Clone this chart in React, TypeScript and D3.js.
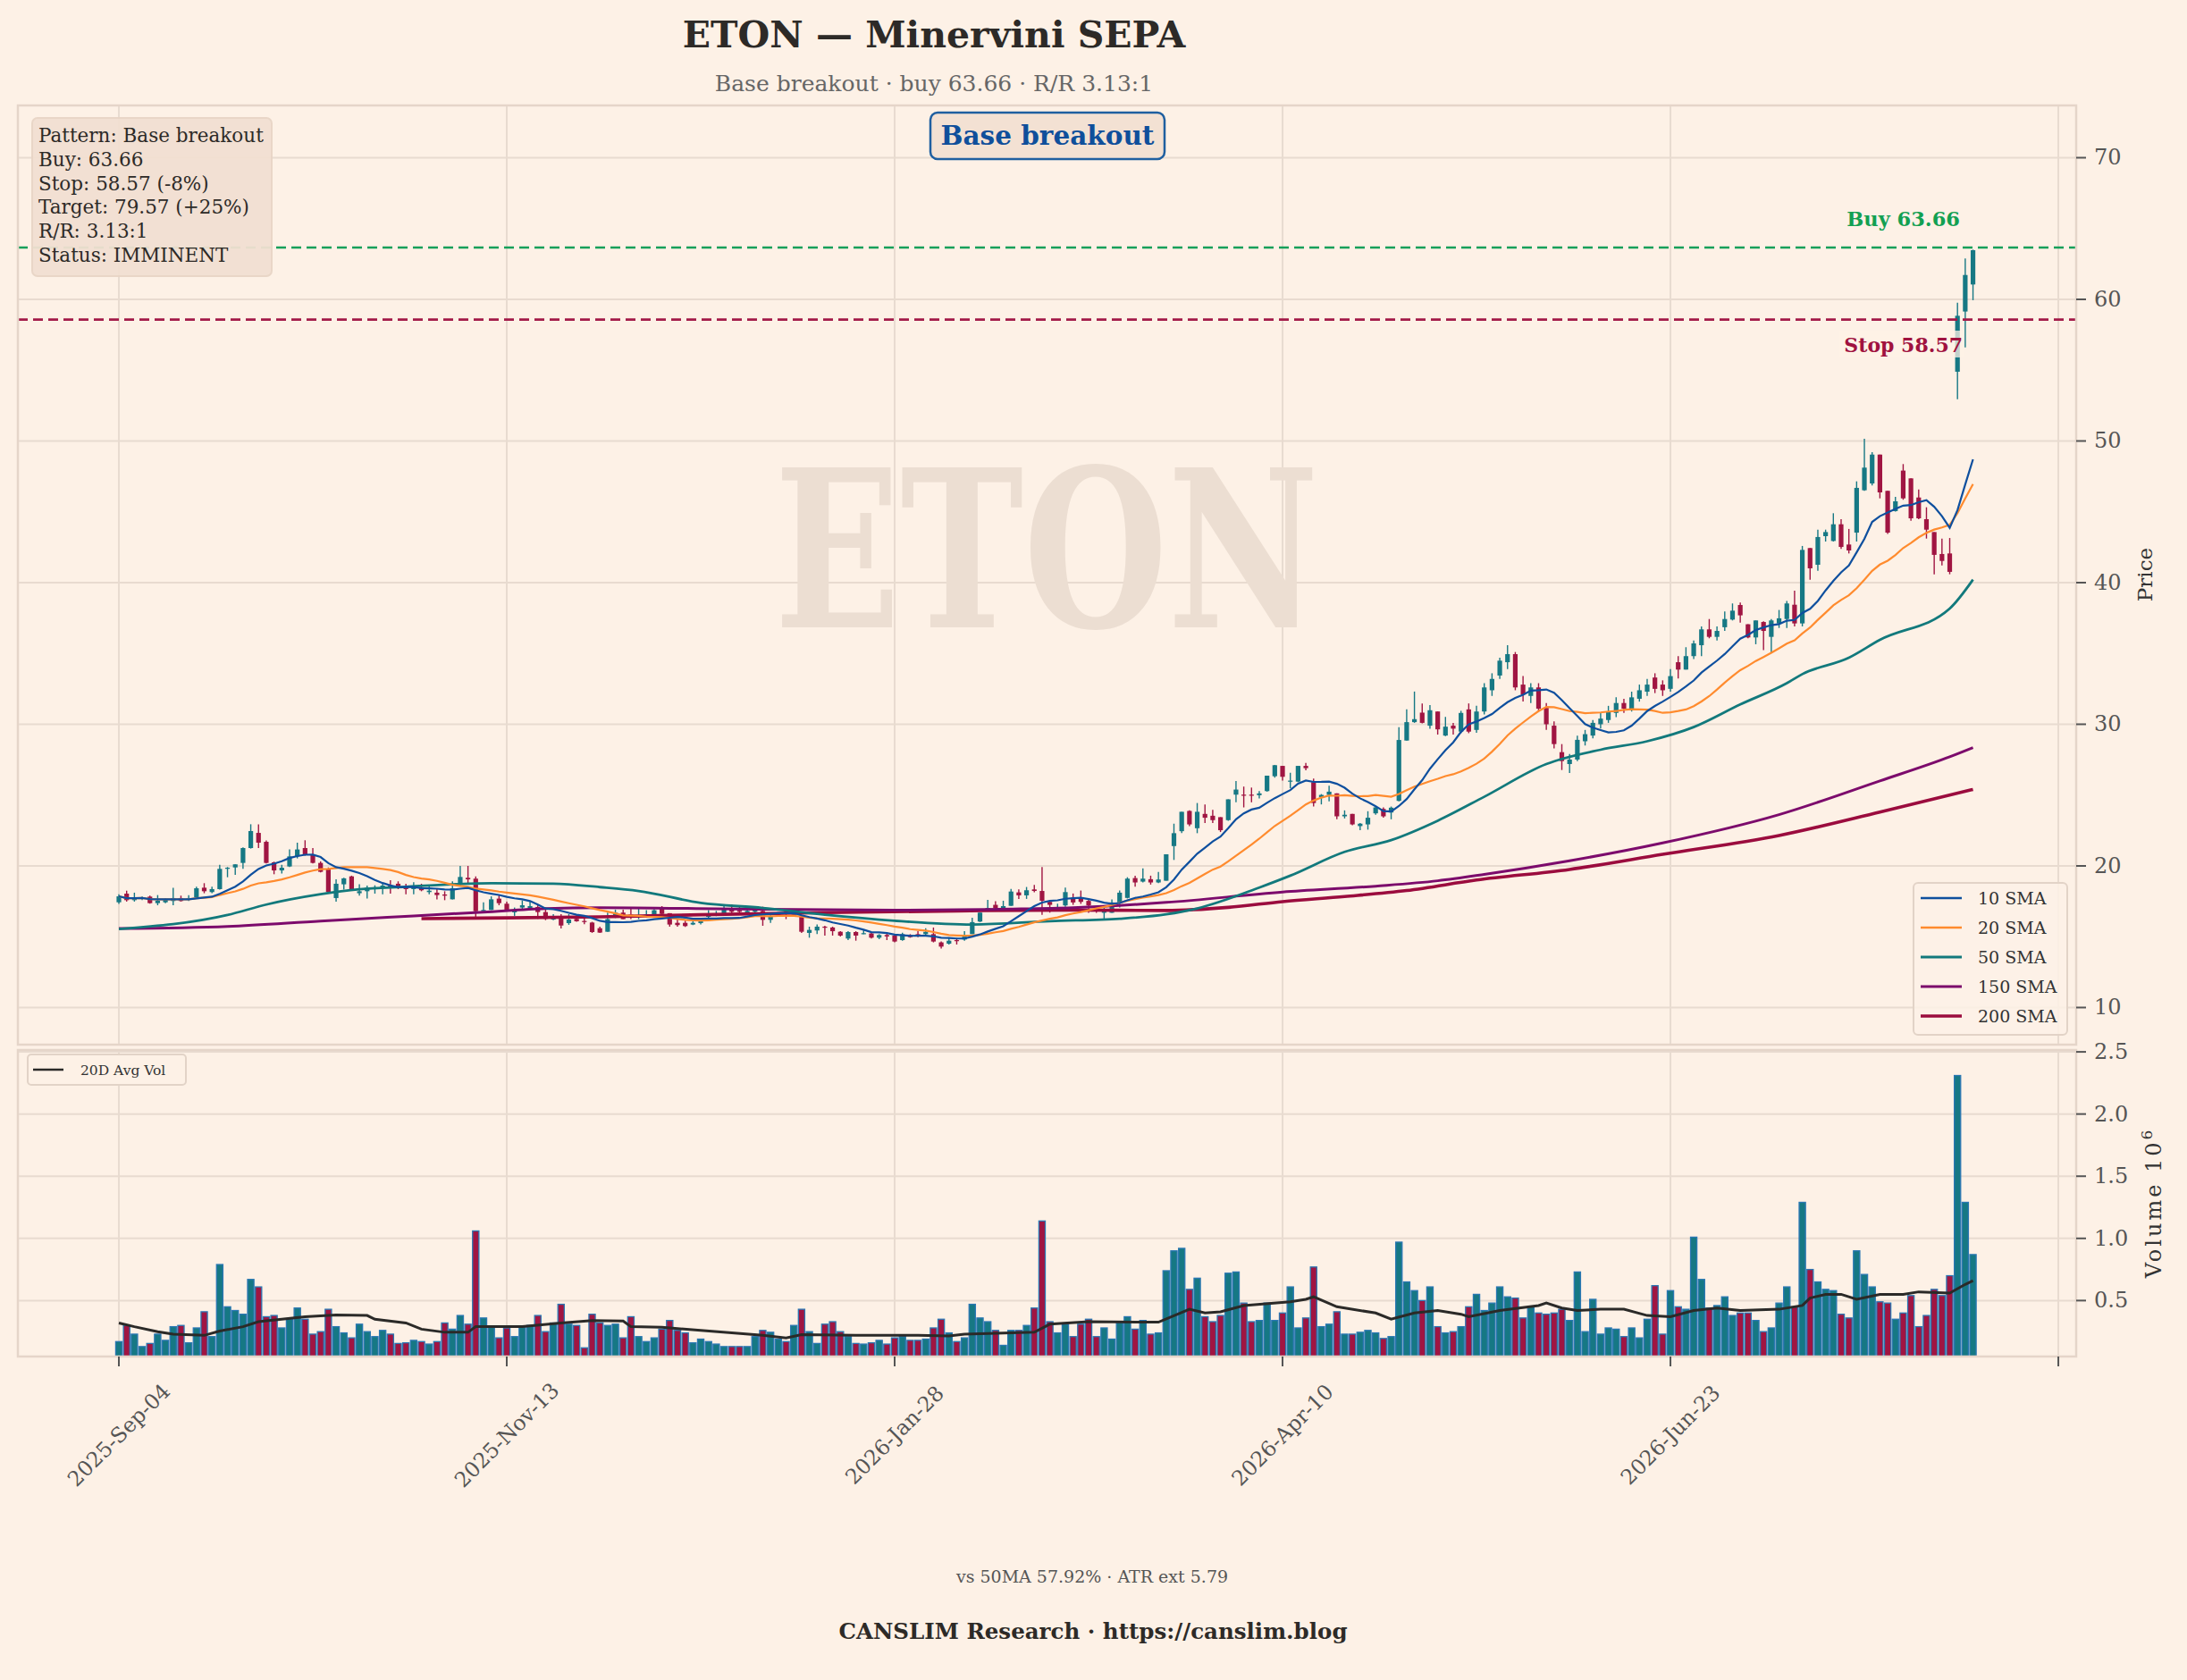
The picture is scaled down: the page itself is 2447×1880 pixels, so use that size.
import React from 'react';
import * as d3 from 'd3';

const W = 2447;
const H = 1880;

// ---------- DATA ----------
const opens = [
17.43,18.04,17.58,17.69,17.83,17.37,17.43,17.52,17.73,17.62,17.79,18.46,18.15,18.36,19.81,19.89,20.21,21.26,22.33,21.70,
20.25,19.68,19.96,20.67,21.26,20.80,20.21,19.79,17.73,18.70,19.26,18.07,18.21,18.36,18.49,18.61,18.74,18.49,18.36,18.49,
18.15,18.11,17.98,17.64,18.70,19.16,19.10,16.80,16.89,17.69,17.33,16.72,17.06,17.01,17.10,16.74,16.21,16.32,15.96,16.26,
16.11,16.00,15.60,15.35,16.40,16.70,16.57,16.45,16.45,16.45,16.97,16.66,15.98,15.98,15.86,15.96,16.40,16.51,16.61,16.95,
16.87,16.70,16.76,16.82,16.19,16.51,16.76,16.55,16.45,15.27,15.44,15.71,15.65,15.35,14.87,15.33,15.21,15.23,14.93,15.12,
15.08,14.76,15.12,15.18,15.18,15.18,14.60,14.51,14.76,14.80,15.18,16.07,16.87,17.25,16.91,17.18,18.13,17.92,18.34,18.23,
17.46,16.94,17.21,17.74,17.67,17.53,16.96,16.69,16.69,17.42,17.74,19.14,18.89,19.06,18.83,18.95,21.40,22.45,23.88,22.66,
23.67,23.54,23.44,23.23,25.03,25.03,25.03,24.99,25.28,26.33,27.06,25.97,25.95,27.06,25.91,24.86,25.01,25.12,23.50,23.67,
22.81,22.93,23.71,24.02,23.77,24.59,28.85,30.15,30.82,29.90,30.90,29.20,29.90,29.48,31.05,29.60,30.90,32.40,33.44,34.38,
34.95,32.80,32.00,32.60,31.20,29.90,28.03,27.19,27.51,28.80,29.20,30.00,30.30,30.80,31.50,31.10,31.80,32.30,33.30,32.80,
32.50,34.38,33.86,34.81,35.58,36.70,36.17,36.85,37.39,38.42,37.06,36.13,37.22,36.17,37.12,37.43,38.44,37.12,42.44,41.26,
43.28,42.94,44.12,42.69,43.53,46.52,47.00,49.04,46.48,45.05,47.91,47.36,46.01,44.48,43.57,42.02,42.06,54.89,59.14,61.05,
];
const highs = [
18.00,18.25,18.11,17.83,17.90,17.94,17.73,18.46,17.90,17.94,18.53,18.78,18.53,20.08,19.92,20.11,21.30,22.94,22.94,21.79,
20.30,20.08,21.16,21.64,21.81,21.26,20.32,19.89,19.05,19.16,19.31,18.70,18.61,18.63,18.74,18.99,18.91,18.74,18.84,18.74,
18.57,18.36,18.21,18.91,20.00,20.00,19.26,17.43,17.85,17.94,17.48,17.06,17.56,17.52,17.22,17.06,16.59,16.59,16.59,16.53,
16.43,16.05,15.71,16.70,16.91,16.91,16.97,16.97,16.87,16.95,17.16,16.66,16.24,16.13,16.24,16.28,16.87,16.82,17.29,17.29,
17.18,16.97,17.03,17.12,16.55,16.70,16.97,16.91,16.55,15.71,15.86,15.77,15.71,15.39,15.39,15.39,15.50,15.29,15.18,15.23,
15.14,15.29,15.18,15.39,15.60,15.65,14.66,14.93,14.91,15.39,16.34,16.70,17.60,17.50,17.54,18.38,18.34,18.51,18.65,19.92,
17.54,17.33,18.47,18.05,18.26,17.63,17.11,17.21,17.63,18.26,19.20,19.31,19.83,19.31,19.58,20.82,22.98,23.82,23.92,24.44,
24.34,23.96,23.44,24.70,26.00,25.60,25.53,25.28,26.37,27.13,27.06,26.58,27.06,27.27,26.16,25.07,25.66,25.12,23.92,23.67,
23.02,23.86,24.19,24.13,24.19,29.79,31.05,32.31,31.47,31.36,30.90,30.52,30.10,30.95,31.47,31.30,32.90,33.60,34.70,35.58,
35.10,33.40,32.90,32.90,31.50,30.20,28.60,27.90,29.20,29.60,30.30,30.80,31.30,31.90,31.80,32.30,32.80,33.20,33.60,33.10,
33.90,34.81,35.44,35.92,36.91,37.43,36.91,37.96,38.53,38.59,37.06,37.33,37.27,37.43,38.07,38.70,39.43,42.59,42.44,43.74,
43.74,44.90,44.48,43.79,47.15,50.16,49.21,49.04,46.48,46.06,48.37,47.36,46.58,45.32,43.57,43.11,43.15,59.77,62.88,63.51,
];
const lows = [
17.31,17.48,17.48,17.58,17.33,17.22,17.37,17.22,17.48,17.52,17.73,18.07,18.07,18.32,19.20,19.37,19.79,21.22,21.26,20.17,
19.41,19.47,19.92,20.53,20.72,20.17,19.54,18.11,17.48,18.32,18.30,17.90,17.69,18.04,18.00,18.04,18.36,18.00,18.00,18.21,
18.00,17.64,17.58,17.64,18.63,18.74,16.26,16.80,16.89,17.22,16.80,16.47,16.85,16.89,16.26,16.17,16.17,15.58,15.84,16.05,
15.88,15.27,15.27,15.35,16.32,16.24,16.24,16.24,16.34,16.40,16.55,15.71,15.71,15.69,15.82,15.86,16.34,16.45,16.55,16.66,
16.66,16.61,16.70,15.77,15.98,16.40,16.24,16.45,15.27,14.93,15.18,15.08,15.08,15.02,14.76,14.72,15.18,14.87,14.83,14.76,
14.60,14.72,14.93,14.97,15.14,14.60,14.17,14.45,14.45,14.72,15.18,16.03,16.82,16.97,16.87,17.18,17.67,17.67,18.13,16.55,
16.70,16.82,17.11,17.25,17.32,16.69,16.69,16.16,16.69,17.06,17.70,18.53,18.83,18.68,18.78,18.95,20.42,22.31,22.81,22.31,
23.02,23.02,22.39,23.19,24.49,24.13,24.49,24.76,25.24,26.23,26.02,25.49,25.91,26.75,24.19,24.34,24.55,23.29,23.35,22.87,
22.52,22.56,23.61,23.40,23.29,24.55,28.85,30.10,30.06,29.69,29.27,29.16,29.27,29.37,29.37,29.40,30.70,32.00,33.20,33.90,
32.40,31.60,31.50,30.90,29.60,28.30,26.77,26.56,27.40,28.50,29.00,29.70,30.10,30.50,30.80,30.90,31.60,32.00,32.20,32.00,
32.30,33.23,33.86,34.60,34.81,36.07,35.92,36.59,37.33,37.18,36.07,35.65,35.23,35.02,36.80,36.80,36.91,36.91,40.21,40.84,
42.90,42.90,42.38,42.06,42.90,46.48,46.86,45.95,43.43,45.01,45.85,44.37,44.48,43.11,40.59,41.22,40.59,52.95,56.60,59.94,
];
const closes = [
17.85,17.58,17.73,17.77,17.37,17.54,17.62,17.73,17.52,17.73,18.42,18.21,18.36,19.79,19.87,20.11,21.26,22.46,21.64,20.21,
19.68,19.87,20.67,21.16,20.80,20.21,19.58,18.15,18.74,19.12,18.32,18.21,18.46,18.49,18.61,18.49,18.42,18.36,18.61,18.28,
18.25,17.94,17.90,18.42,19.22,19.05,16.80,16.89,17.64,17.37,16.91,16.89,17.22,17.16,16.74,16.26,16.30,15.79,16.21,16.09,
16.05,15.33,15.29,16.24,16.70,16.24,16.49,16.53,16.57,16.87,16.61,15.86,15.82,15.75,15.98,16.19,16.61,16.61,16.91,16.76,
16.76,16.82,16.91,16.19,16.45,16.61,16.61,16.66,15.35,15.48,15.71,15.65,15.39,15.08,15.33,15.08,15.25,14.93,15.12,15.02,
14.66,15.18,14.97,15.14,15.35,14.66,14.30,14.72,14.72,15.02,16.03,16.70,17.03,17.03,17.16,18.19,17.92,18.28,18.23,17.54,
17.25,17.06,18.15,17.42,17.46,17.21,16.86,16.86,17.42,18.11,19.10,18.83,19.10,18.83,19.04,20.82,22.31,23.82,22.93,23.82,
23.40,23.23,22.52,24.70,25.39,24.99,24.99,25.12,26.37,27.11,26.29,26.02,27.06,26.90,24.44,25.01,25.24,23.50,23.61,22.93,
22.98,23.40,24.13,23.50,24.11,28.89,30.15,30.36,30.10,30.99,29.64,29.83,29.69,30.80,29.48,30.90,32.60,33.20,34.49,34.95,
32.60,32.10,32.60,31.10,30.00,28.60,27.40,27.51,28.90,29.30,30.10,30.40,30.90,31.50,31.10,31.90,32.40,32.80,32.50,32.40,
33.40,33.86,34.81,35.71,36.70,36.17,36.59,37.43,38.02,37.69,36.13,37.33,36.59,37.33,37.48,38.53,37.12,42.31,41.01,43.22,
43.57,44.12,42.52,42.27,46.69,48.12,49.04,46.37,43.53,45.74,45.95,44.54,44.54,43.74,41.96,41.53,40.76,58.84,61.72,63.47,
];
// volume, millions of shares
const volumes = [
0.17,0.30,0.23,0.13,0.155,0.23,0.18,0.29,0.30,0.16,0.28,0.41,0.21,0.79,0.45,0.42,0.39,0.67,0.61,0.37,
0.38,0.28,0.35,0.44,0.35,0.23,0.25,0.43,0.29,0.24,0.20,0.31,0.25,0.21,0.26,0.23,0.155,0.16,0.18,0.17,
0.15,0.17,0.32,0.27,0.38,0.31,1.06,0.36,0.29,0.20,0.28,0.21,0.29,0.30,0.38,0.25,0.32,0.47,0.31,0.30,
0.12,0.39,0.32,0.30,0.31,0.20,0.37,0.21,0.17,0.20,0.27,0.34,0.26,0.24,0.16,0.19,0.17,0.15,0.13,0.13,
0.13,0.13,0.21,0.26,0.245,0.19,0.17,0.30,0.43,0.25,0.155,0.31,0.33,0.25,0.21,0.155,0.15,0.16,0.18,0.15,
0.20,0.21,0.18,0.18,0.19,0.28,0.35,0.24,0.17,0.20,0.47,0.36,0.33,0.26,0.14,0.26,0.26,0.30,0.44,1.14,
0.33,0.24,0.31,0.21,0.31,0.35,0.21,0.28,0.19,0.32,0.37,0.27,0.34,0.23,0.24,0.74,0.90,0.92,0.59,0.68,
0.37,0.33,0.38,0.72,0.73,0.48,0.33,0.34,0.48,0.34,0.40,0.61,0.28,0.36,0.77,0.29,0.31,0.41,0.23,0.23,
0.245,0.26,0.24,0.195,0.21,0.97,0.65,0.58,0.50,0.61,0.29,0.24,0.25,0.29,0.45,0.55,0.42,0.48,0.61,0.53,
0.52,0.36,0.45,0.40,0.39,0.40,0.43,0.34,0.73,0.25,0.51,0.23,0.28,0.27,0.21,0.28,0.20,0.35,0.62,0.23,
0.58,0.45,0.43,1.01,0.67,0.44,0.46,0.53,0.38,0.40,0.40,0.34,0.25,0.28,0.48,0.61,0.45,1.29,0.75,0.65,
0.59,0.58,0.39,0.36,0.90,0.71,0.61,0.49,0.48,0.35,0.40,0.54,0.29,0.38,0.59,0.54,0.70,2.31,1.29,0.87,
];
// 20-day average volume line, read as [bar, value]
const avgVolPts: [number, number][] = [
[0,0.32],[2,0.29],[5,0.25],[7,0.23],[11,0.22],[13,0.255],[16,0.29],[18,0.33],[24,0.37],[28,0.385],[32,0.38],[33,0.35],
[37,0.32],[39,0.27],[42,0.245],[45,0.245],[46,0.29],[52,0.29],[57,0.32],[61,0.34],[65,0.335],[66,0.29],[70,0.285],
[75,0.26],[79,0.24],[83,0.22],[86,0.20],[88,0.226],[95,0.22],[103,0.22],[107,0.215],[109,0.23],[118,0.245],[120,0.31],
[125,0.33],[134,0.326],[138,0.43],[140,0.40],[142,0.41],[145,0.46],[151,0.49],[153,0.51],[154,0.53],[157,0.45],
[162,0.40],[164,0.35],[167,0.40],[170,0.42],[173,0.39],[174,0.37],[178,0.42],[183,0.46],[184,0.48],[186,0.44],
[188,0.42],[191,0.43],[194,0.43],[197,0.38],[200,0.37],[203,0.42],[206,0.44],[209,0.42],[214,0.43],[217,0.46],
[218,0.52],[220,0.55],[222,0.55],[224,0.51],[227,0.55],[230,0.55],[232,0.57],[236,0.56],[238,0.63],[239,0.66],
];
// long moving averages, read as [bar, value]
const sma50Pts: [number, number][] = [
[0,15.54],[14,16.53],[19,17.27],[26,18.0],[31,18.35],[37,18.53],[43,18.7],[48,18.78],[56,18.74],[62,18.5],[67,18.23],
[75,17.39],[83,17.03],[91,16.55],[100,16.13],[110,15.86],[120,16.1],[129,16.27],[135,16.58],[139,17.0],[147,18.47],
[151,19.31],[158,20.99],[164,21.82],[170,23.19],[176,24.88],[184,27.19],[191,28.2],[197,28.8],[203,29.8],[209,31.4],
[215,32.9],[217,33.54],[223,34.7],[227,35.96],[236,38.17],[239,40.21],
];
const sma150Pts: [number, number][] = [
[0,15.58],[14,15.73],[26,16.11],[38,16.47],[47,16.74],[55,16.99],[62,17.05],[80,16.95],[100,16.87],[115,16.95],
[123,17.05],[135,17.42],[150,18.15],[162,18.57],[170,18.95],[176,19.4],[187,20.36],[199,21.62],[214,23.62],[227,26.0],
[236,27.7],[239,28.35],
];
const sma200Pts: [number, number][] = [
[39,16.28],[50,16.33],[62,16.4],[75,16.55],[91,16.7],[108,16.82],[123,16.88],[135,16.85],[143,17.07],[150,17.48],
[158,17.84],[166,18.26],[175,19.0],[187,19.75],[199,20.82],[214,22.15],[227,23.8],[239,25.4],
];

const xTickIdx = [0, 50, 100, 150, 200, 250];
const xTickLabels = ['2025-Sep-04', '2025-Nov-13', '2026-Jan-28', '2026-Apr-10', '2026-Jun-23', ''];
const priceTicks = [10, 20, 30, 40, 50, 60, 70];
const volTicks = [0.5, 1.0, 1.5, 2.0, 2.5];
const buyPrice = 63.66;
const stopPrice = 58.57;
const infoLines = [
  'Pattern: Base breakout',
  'Buy: 63.66',
  'Stop: 58.57 (-8%)',
  'Target: 79.57 (+25%)',
  'R/R: 3.13:1',
  'Status: IMMINENT',
];
const legendNames = ['10 SMA', '20 SMA', '50 SMA', '150 SMA', '200 SMA'];

// ---------- STYLE ----------
const BG = '#fdf1e6';
const GRID = '#e8dbd0';
const UP = '#167884';
const DOWN = '#a01542';
const VOL_EDGE = '#2a77b3';
const C10 = '#0e4f9e';
const C20 = '#ff8b2e';
const C50 = '#12797c';
const C150 = '#7c0b6c';
const C200 = '#9b0c3e';
const FONT = "'DejaVu Serif', serif";

function rollingMean(vals: number[], n: number): number[] {
  return vals.map((_, i) => {
    const s = Math.max(0, i - n + 1);
    const w = vals.slice(s, i + 1);
    return d3.mean(w) as number;
  });
}

export default function App() {
  const PX0 = 20, PX1 = 2323;
  const PY0 = 118, PY1 = 1169;
  const VY0 = 1175, VY1 = 1518;

  const x = d3.scaleLinear().domain([-13.02, 252.3]).range([PX0, PX1]);
  const y = d3.scaleLinear().domain([7.38, 73.69]).range([PY1, PY0]);
  const yv = d3.scaleLinear().domain([0.05, 2.515]).range([VY1, VY0]);
  const step = x(1) - x(0);

  const sma10 = rollingMean(closes, 10).map((v, i) => [i, v] as [number, number]);
  const sma20 = rollingMean(closes, 20).map((v, i) => [i, v] as [number, number]);

  const pLine = d3.line<[number, number]>().x(d => x(d[0])).y(d => y(d[1]));
  const pSmooth = d3.line<[number, number]>().x(d => x(d[0])).y(d => y(d[1])).curve(d3.curveMonotoneX);
  const vLine = d3.line<[number, number]>().x(d => x(d[0])).y(d => yv(d[1]));

  const bodyW = step * 0.6;
  const volW = step * 0.82;

  const legendColors = [C10, C20, C50, C150, C200];
  const legendWidths = [2.4, 2.4, 3, 3, 3.6];

  return (
    <svg width={W} height={H} viewBox={`0 0 ${W} ${H}`}
      style={{ position: 'absolute', left: 0, top: 0, display: 'block' }}
      fontFamily={FONT}>
      <defs>
        <clipPath id="pclip"><rect x={PX0} y={PY0} width={PX1 - PX0} height={PY1 - PY0} /></clipPath>
        <clipPath id="vclip"><rect x={PX0} y={VY0} width={PX1 - PX0} height={VY1 - VY0} /></clipPath>
      </defs>
      <rect x={0} y={0} width={W} height={H} fill={BG} />

      {/* Title */}
      <text x={1045} y={53} textAnchor="middle" fontSize={41} fontWeight="bold" fill="#2d2a27">ETON — Minervini SEPA</text>
      <text x={1045} y={102} textAnchor="middle" fontSize={25} fill="#666">Base breakout · buy 63.66 · R/R 3.13:1</text>

      {/* ---------- price panel grid ---------- */}
      {priceTicks.map(t => (
        <line key={'pg' + t} x1={PX0} x2={PX1} y1={y(t)} y2={y(t)} stroke={GRID} strokeWidth={2} />
      ))}
      {xTickIdx.map(t => (
        <line key={'xg' + t} x1={x(t)} x2={x(t)} y1={PY0} y2={PY1} stroke={GRID} strokeWidth={2} />
      ))}

      {/* watermark */}
      <text x={1171} y={702} textAnchor="middle" fontSize={245} fontWeight="bold" fill="#ecded2"
        textLength={609} lengthAdjust="spacingAndGlyphs">ETON</text>

      <g clipPath="url(#pclip)">
        {/* candles */}
        {closes.map((c, i) => {
          const o = opens[i];
          const up = c >= o;
          const col = up ? UP : DOWN;
          const top = y(Math.max(o, c));
          const bot = y(Math.min(o, c));
          return (
            <g key={'c' + i}>
              <line x1={x(i)} x2={x(i)} y1={y(highs[i])} y2={y(lows[i])} stroke={col} strokeWidth={1.4} />
              <rect x={x(i) - bodyW / 2} y={top} width={bodyW} height={Math.max(1.2, bot - top)} fill={col} />
            </g>
          );
        })}
        {/* moving averages */}
        <path d={pSmooth(sma200Pts) || ''} fill="none" stroke={C200} strokeWidth={3.6} />
        <path d={pSmooth(sma150Pts) || ''} fill="none" stroke={C150} strokeWidth={3} />
        <path d={pSmooth(sma50Pts) || ''} fill="none" stroke={C50} strokeWidth={2.8} />
        <path d={pLine(sma20) || ''} fill="none" stroke={C20} strokeWidth={2.2} />
        <path d={pLine(sma10) || ''} fill="none" stroke={C10} strokeWidth={2.2} />

        {/* buy / stop */}
        <line x1={PX0} x2={PX1} y1={y(buyPrice)} y2={y(buyPrice)} stroke="#14a05a" strokeWidth={2.6} strokeDasharray="11 6" />
        <line x1={PX0} x2={PX1} y1={y(stopPrice)} y2={y(stopPrice)} stroke="#a31a48" strokeWidth={2.6} strokeDasharray="11 6" />
      </g>

      <text x={2193} y={253} textAnchor="end" fontSize={22.5} fontWeight="bold" fill="#12a052">Buy 63.66</text>
      <rect x={2058} y={370} width={140} height={30} fill={BG} opacity={0.75} />
      <text x={2196} y={394} textAnchor="end" fontSize={22} fontWeight="bold" fill="#a0123f">Stop 58.57</text>

      {/* price frame */}
      <rect x={PX0} y={PY0} width={PX1 - PX0} height={PY1 - PY0} fill="none" stroke="#e5d5c9" strokeWidth={2.5} />

      {/* price axis right */}
      {priceTicks.map(t => (
        <g key={'pt' + t}>
          <line x1={PX1} x2={PX1 + 11} y1={y(t)} y2={y(t)} stroke="#555" strokeWidth={2} />
          <text x={PX1 + 20} y={y(t) + 8} fontSize={24} fill="#555">{t}</text>
        </g>
      ))}
      <text transform={`translate(2408,643) rotate(-90)`} textAnchor="middle" fontSize={23} fill="#333">Price</text>

      {/* info box */}
      <rect x={36} y={132} width={268} height={177} rx={6} fill="#f2e0d2" stroke="#e8d5c6" strokeWidth={2} opacity={0.95} />
      {infoLines.map((s, k) => (
        <text key={'il' + k} x={43} y={159 + k * 26.8} fontSize={21.5} fill="#2d2a27">{s}</text>
      ))}

      {/* pattern badge */}
      <rect x={1041} y={126} width={262} height={52} rx={8} fill="#f3e1d3" stroke="#1f5fa0" strokeWidth={2.5} />
      <text x={1172} y={162} textAnchor="middle" fontSize={29.5} fontWeight="bold" fill="#0f4f9b">Base breakout</text>

      {/* SMA legend */}
      <rect x={2141} y={988} width={172} height={170} rx={5} fill={BG} fillOpacity={0.85} stroke="#e2d3c7" strokeWidth={2} />
      {legendNames.map((n, k) => (
        <g key={'lg' + k}>
          <line x1={2149} x2={2195} y1={1005 + k * 33} y2={1005 + k * 33} stroke={legendColors[k]} strokeWidth={legendWidths[k]} />
          <text x={2213} y={1012 + k * 33} fontSize={19} fill="#333">{n}</text>
        </g>
      ))}

      {/* ---------- volume panel ---------- */}
      {volTicks.map(t => (
        <line key={'vg' + t} x1={PX0} x2={PX1} y1={yv(t)} y2={yv(t)} stroke={GRID} strokeWidth={2} />
      ))}
      {xTickIdx.map(t => (
        <line key={'vxg' + t} x1={x(t)} x2={x(t)} y1={VY0} y2={VY1} stroke={GRID} strokeWidth={2} />
      ))}
      <g clipPath="url(#vclip)">
        {volumes.map((v, i) => {
          const up = closes[i] >= opens[i];
          return (
            <rect key={'v' + i} x={x(i) - volW / 2} y={yv(v)} width={volW} height={VY1 - yv(v)}
              fill={up ? UP : DOWN} stroke={VOL_EDGE} strokeWidth={1.3} />
          );
        })}
        <path d={vLine(avgVolPts) || ''} fill="none" stroke="#2b2a28" strokeWidth={3} />
      </g>
      <rect x={PX0} y={VY0} width={PX1 - PX0} height={VY1 - VY0} fill="none" stroke="#e5d5c9" strokeWidth={2.5} />
      {volTicks.map(t => (
        <g key={'vt' + t}>
          <line x1={PX1} x2={PX1 + 11} y1={yv(t)} y2={yv(t)} stroke="#555" strokeWidth={2} />
          <text x={PX1 + 20} y={yv(t) + 8} fontSize={24} fill="#555">{t.toFixed(1)}</text>
        </g>
      ))}
      <text transform={`translate(2418,1346) rotate(-90)`} textAnchor="middle" fontSize={24} fill="#333" letterSpacing={3}>
        Volume  10<tspan dy={-10} fontSize={17}>6</tspan>
      </text>

      {/* volume legend */}
      <rect x={31} y={1180} width={177} height={34} rx={4} fill={BG} stroke="#e2d3c7" strokeWidth={2} />
      <line x1={37} x2={71} y1={1197} y2={1197} stroke="#2b2a28" strokeWidth={2.5} />
      <text x={90} y={1203} fontSize={15.5} fill="#333">20D Avg Vol</text>

      {/* x axis ticks & labels */}
      {xTickIdx.map((t, k) => (
        <g key={'xt' + t}>
          <line x1={x(t)} x2={x(t)} y1={VY1} y2={VY1 + 11} stroke="#555" strokeWidth={2} />
          {xTickLabels[k] && (
            <text transform={`translate(${x(t)},1606) rotate(-45)`} textAnchor="middle" dominantBaseline="central"
              fontSize={23.5} fill="#555">{xTickLabels[k]}</text>
          )}
        </g>
      ))}

      {/* footer */}
      <text x={1222} y={1771} textAnchor="middle" fontSize={19} fill="#555">vs 50MA 57.92% · ATR ext 5.79</text>
      <text x={1223} y={1834} textAnchor="middle" fontSize={24.5} fontWeight="bold" fill="#2d2a27">CANSLIM Research  ·  https://canslim.blog</text>
    </svg>
  );
}
